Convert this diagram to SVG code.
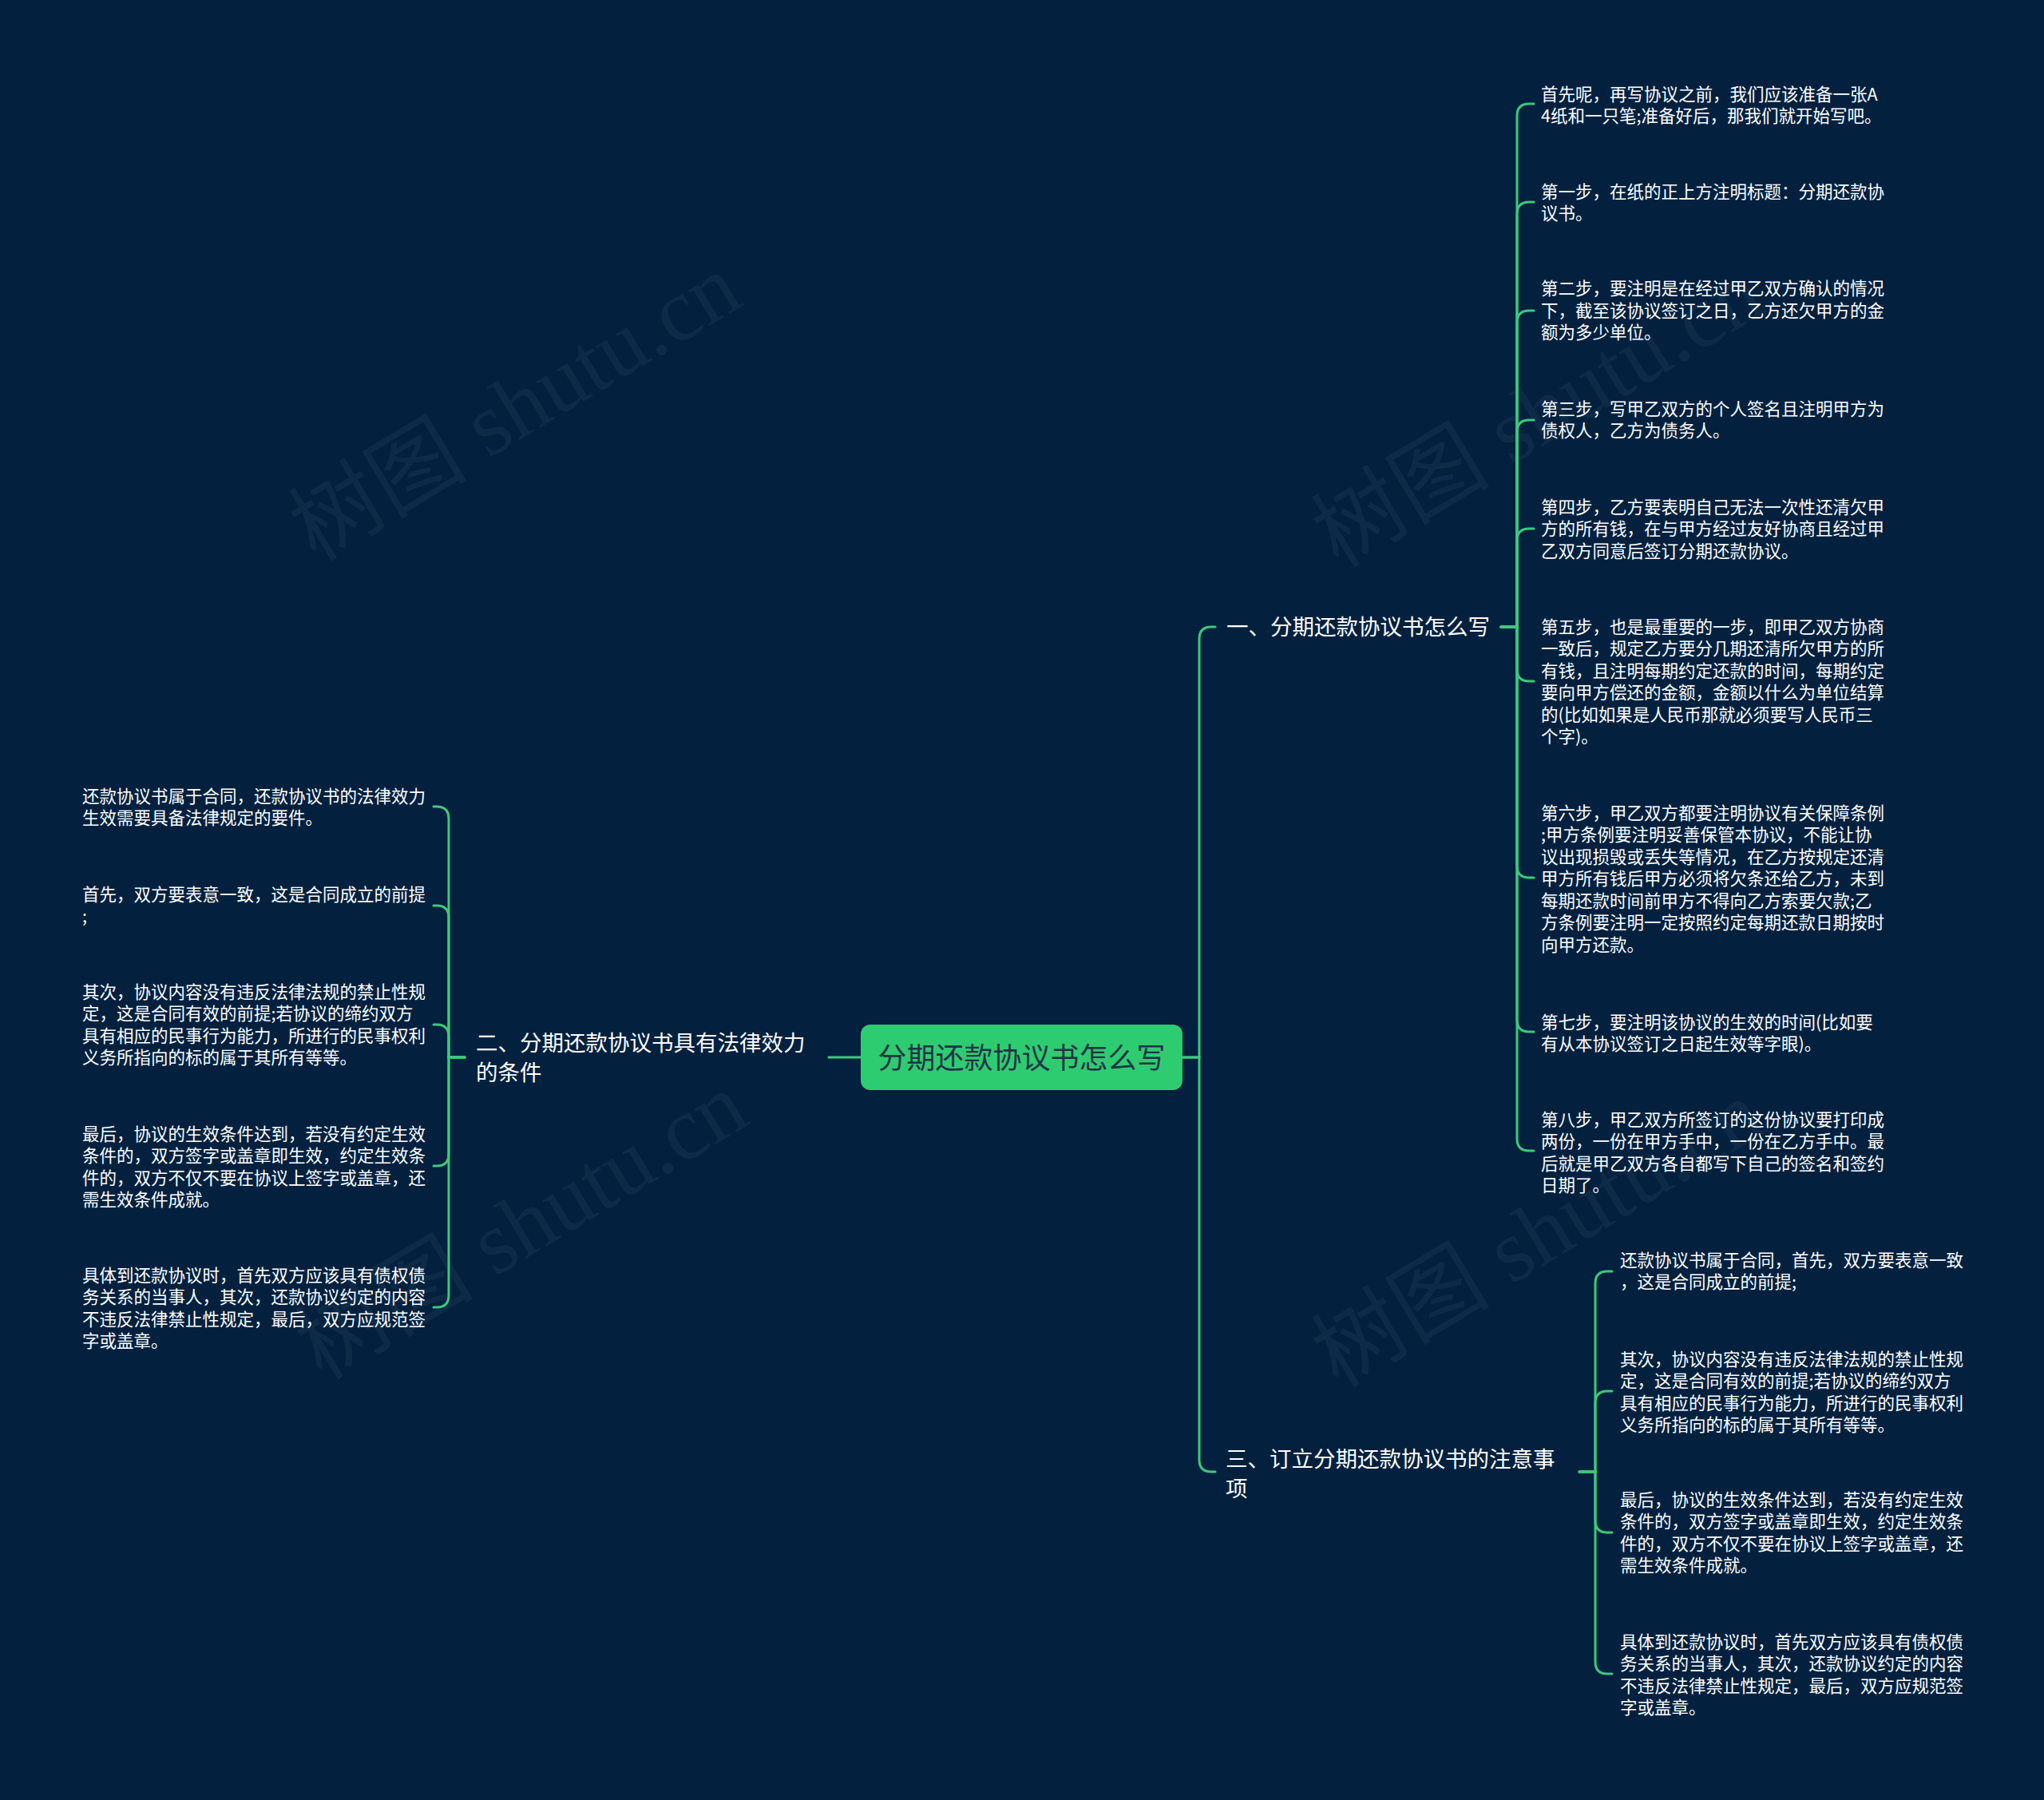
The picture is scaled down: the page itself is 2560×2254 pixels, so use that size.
<svg xmlns="http://www.w3.org/2000/svg" width="2560" height="2254" viewBox="0 0 2560 2254">
<style>
.bg{fill:#03213f}
.wm{font-family:"Liberation Serif","Noto Sans CJK SC",serif;font-size:112px;fill:#ffffff;fill-opacity:0.045}
.leaf{font-family:"Noto Sans CJK SC","Noto Sans",sans-serif;font-size:21.5px;fill:#ffffff;dominant-baseline:central;transform:translate(0px,-2px)}
.br{font-family:"Noto Sans CJK SC","Noto Sans",sans-serif;font-size:27.5px;fill:#ffffff;dominant-baseline:central;transform:translate(0px,-2px)}
.root-t{font-family:"Noto Sans CJK SC","Noto Sans",sans-serif;font-size:36px;fill:#1f3346;dominant-baseline:central;text-anchor:middle;transform:translate(0px,-2px)}
.c{fill:none;stroke:#3cc97a;stroke-width:3;stroke-linecap:round}
</style>
<rect class="bg" x="0" y="0" width="2560" height="2254"/>
<g id="watermarks">
<text class="wm" transform="translate(645,510) rotate(-31)" text-anchor="middle" dominant-baseline="central">树图 shutu.cn</text>
<text class="wm" transform="translate(1926,518) rotate(-31)" text-anchor="middle" dominant-baseline="central">树图 shutu.cn</text>
<text class="wm" transform="translate(653,1535) rotate(-31)" text-anchor="middle" dominant-baseline="central">树图 shutu.cn</text>
<text class="wm" transform="translate(1926,1545) rotate(-31)" text-anchor="middle" dominant-baseline="central">树图 shutu.cn</text>
</g>
<g id="connectors">
<path class="c" d="M1481,1324 H1502 V800 Q1502,785 1517,785 H1522"/>
<path class="c" d="M1481,1324 H1502 V1828 Q1502,1843 1517,1843 H1522"/>
<path class="c" d="M1078,1324 H1038"/>
<path class="c" d="M1880,785 H1900 V145 Q1900,130 1915,130 H1921"/>
<path class="c" d="M1880,785 H1900 V268 Q1900,253 1915,253 H1921"/>
<path class="c" d="M1880,785 H1900 V404 Q1900,389 1915,389 H1921"/>
<path class="c" d="M1880,785 H1900 V541 Q1900,526 1915,526 H1921"/>
<path class="c" d="M1880,785 H1900 V677 Q1900,662 1915,662 H1921"/>
<path class="c" d="M1880,785 H1900 V838 Q1900,853 1915,853 H1921"/>
<path class="c" d="M1880,785 H1900 V1084 Q1900,1099 1915,1099 H1921"/>
<path class="c" d="M1880,785 H1900 V1277 Q1900,1292 1915,1292 H1921"/>
<path class="c" d="M1880,785 H1900 V1426 Q1900,1441 1915,1441 H1921"/>
<path class="c" d="M582,1324 H562 V1025 Q562,1010 547,1010 H543"/>
<path class="c" d="M582,1324 H562 V1149 Q562,1134 547,1134 H543"/>
<path class="c" d="M582,1324 H562 V1298 Q562,1283 547,1283 H543"/>
<path class="c" d="M582,1324 H562 V1445 Q562,1460 547,1460 H543"/>
<path class="c" d="M582,1324 H562 V1622 Q562,1637 547,1637 H543"/>
<path class="c" d="M1978,1843 H1998 V1607 Q1998,1592 2013,1592 H2019"/>
<path class="c" d="M1978,1843 H1998 V1757 Q1998,1742 2013,1742 H2019"/>
<path class="c" d="M1978,1843 H1998 V1904 Q1998,1919 2013,1919 H2019"/>
<path class="c" d="M1978,1843 H1998 V2081 Q1998,2096 2013,2096 H2019"/>
</g>
<g id="root">
<rect x="1078" y="1283" width="403" height="82" rx="12" ry="12" fill="#2ecc71"/>
<text class="root-t" x="1279.5" y="1324">分期还款协议书怎么写</text>
</g>
<g id="branch1">
<text class="br" x="1536" y="785">一、分期还款协议书怎么写</text>
</g>
<g id="branch2">
<text class="br" x="596" y="1306">二、分期还款协议书具有法律效力</text>
<text class="br" x="596" y="1343">的条件</text>
</g>
<g id="branch3">
<text class="br" x="1535" y="1827">三、订立分期还款协议书的注意事</text>
<text class="br" x="1535" y="1864">项</text>
</g>
<g id="b1-leaf1">
<text class="leaf" x="1930" y="118">首先呢，再写协议之前，我们应该准备一张A</text>
<text class="leaf" x="1930" y="145.5">4纸和一只笔;准备好后，那我们就开始写吧。</text>
</g>
<g id="b1-leaf2">
<text class="leaf" x="1930" y="240">第一步，在纸的正上方注明标题：分期还款协</text>
<text class="leaf" x="1930" y="267.5">议书。</text>
</g>
<g id="b1-leaf3">
<text class="leaf" x="1930" y="361.5">第二步，要注明是在经过甲乙双方确认的情况</text>
<text class="leaf" x="1930" y="389">下，截至该协议签订之日，乙方还欠甲方的金</text>
<text class="leaf" x="1930" y="416.5">额为多少单位。</text>
</g>
<g id="b1-leaf4">
<text class="leaf" x="1930" y="512">第三步，写甲乙双方的个人签名且注明甲方为</text>
<text class="leaf" x="1930" y="539.5">债权人，乙方为债务人。</text>
</g>
<g id="b1-leaf5">
<text class="leaf" x="1930" y="635">第四步，乙方要表明自己无法一次性还清欠甲</text>
<text class="leaf" x="1930" y="662.5">方的所有钱，在与甲方经过友好协商且经过甲</text>
<text class="leaf" x="1930" y="690">乙双方同意后签订分期还款协议。</text>
</g>
<g id="b1-leaf6">
<text class="leaf" x="1930" y="785">第五步，也是最重要的一步，即甲乙双方协商</text>
<text class="leaf" x="1930" y="812.5">一致后，规定乙方要分几期还清所欠甲方的所</text>
<text class="leaf" x="1930" y="840">有钱，且注明每期约定还款的时间，每期约定</text>
<text class="leaf" x="1930" y="867.5">要向甲方偿还的金额，金额以什么为单位结算</text>
<text class="leaf" x="1930" y="895">的(比如如果是人民币那就必须要写人民币三</text>
<text class="leaf" x="1930" y="922.5">个字)。</text>
</g>
<g id="b1-leaf7">
<text class="leaf" x="1930" y="1018">第六步，甲乙双方都要注明协议有关保障条例</text>
<text class="leaf" x="1930" y="1045.5">;甲方条例要注明妥善保管本协议，不能让协</text>
<text class="leaf" x="1930" y="1073">议出现损毁或丢失等情况，在乙方按规定还清</text>
<text class="leaf" x="1930" y="1100.5">甲方所有钱后甲方必须将欠条还给乙方，未到</text>
<text class="leaf" x="1930" y="1128">每期还款时间前甲方不得向乙方索要欠款;乙</text>
<text class="leaf" x="1930" y="1155.5">方条例要注明一定按照约定每期还款日期按时</text>
<text class="leaf" x="1930" y="1183">向甲方还款。</text>
</g>
<g id="b1-leaf8">
<text class="leaf" x="1930" y="1280">第七步，要注明该协议的生效的时间(比如要</text>
<text class="leaf" x="1930" y="1307.5">有从本协议签订之日起生效等字眼)。</text>
</g>
<g id="b1-leaf9">
<text class="leaf" x="1930" y="1402">第八步，甲乙双方所签订的这份协议要打印成</text>
<text class="leaf" x="1930" y="1429.5">两份，一份在甲方手中，一份在乙方手中。最</text>
<text class="leaf" x="1930" y="1457">后就是甲乙双方各自都写下自己的签名和签约</text>
<text class="leaf" x="1930" y="1484.5">日期了。</text>
</g>
<g id="b2-leaf1">
<text class="leaf" x="103" y="997">还款协议书属于合同，还款协议书的法律效力</text>
<text class="leaf" x="103" y="1024.5">生效需要具备法律规定的要件。</text>
</g>
<g id="b2-leaf2">
<text class="leaf" x="103" y="1120">首先，双方要表意一致，这是合同成立的前提</text>
<text class="leaf" x="103" y="1147.5">;</text>
</g>
<g id="b2-leaf3">
<text class="leaf" x="103" y="1242">其次，协议内容没有违反法律法规的禁止性规</text>
<text class="leaf" x="103" y="1269.5">定，这是合同有效的前提;若协议的缔约双方</text>
<text class="leaf" x="103" y="1297">具有相应的民事行为能力，所进行的民事权利</text>
<text class="leaf" x="103" y="1324.5">义务所指向的标的属于其所有等等。</text>
</g>
<g id="b2-leaf4">
<text class="leaf" x="103" y="1420">最后，协议的生效条件达到，若没有约定生效</text>
<text class="leaf" x="103" y="1447.5">条件的，双方签字或盖章即生效，约定生效条</text>
<text class="leaf" x="103" y="1475">件的，双方不仅不要在协议上签字或盖章，还</text>
<text class="leaf" x="103" y="1502.5">需生效条件成就。</text>
</g>
<g id="b2-leaf5">
<text class="leaf" x="103" y="1597">具体到还款协议时，首先双方应该具有债权债</text>
<text class="leaf" x="103" y="1624.5">务关系的当事人，其次，还款协议约定的内容</text>
<text class="leaf" x="103" y="1652">不违反法律禁止性规定，最后，双方应规范签</text>
<text class="leaf" x="103" y="1679.5">字或盖章。</text>
</g>
<g id="b3-leaf1">
<text class="leaf" x="2029" y="1578">还款协议书属于合同，首先，双方要表意一致</text>
<text class="leaf" x="2029" y="1605.5">，这是合同成立的前提;</text>
</g>
<g id="b3-leaf2">
<text class="leaf" x="2029" y="1702">其次，协议内容没有违反法律法规的禁止性规</text>
<text class="leaf" x="2029" y="1729.5">定，这是合同有效的前提;若协议的缔约双方</text>
<text class="leaf" x="2029" y="1757">具有相应的民事行为能力，所进行的民事权利</text>
<text class="leaf" x="2029" y="1784.5">义务所指向的标的属于其所有等等。</text>
</g>
<g id="b3-leaf3">
<text class="leaf" x="2029" y="1878">最后，协议的生效条件达到，若没有约定生效</text>
<text class="leaf" x="2029" y="1905.5">条件的，双方签字或盖章即生效，约定生效条</text>
<text class="leaf" x="2029" y="1933">件的，双方不仅不要在协议上签字或盖章，还</text>
<text class="leaf" x="2029" y="1960.5">需生效条件成就。</text>
</g>
<g id="b3-leaf4">
<text class="leaf" x="2029" y="2056">具体到还款协议时，首先双方应该具有债权债</text>
<text class="leaf" x="2029" y="2083.5">务关系的当事人，其次，还款协议约定的内容</text>
<text class="leaf" x="2029" y="2111">不违反法律禁止性规定，最后，双方应规范签</text>
<text class="leaf" x="2029" y="2138.5">字或盖章。</text>
</g>
</svg>
